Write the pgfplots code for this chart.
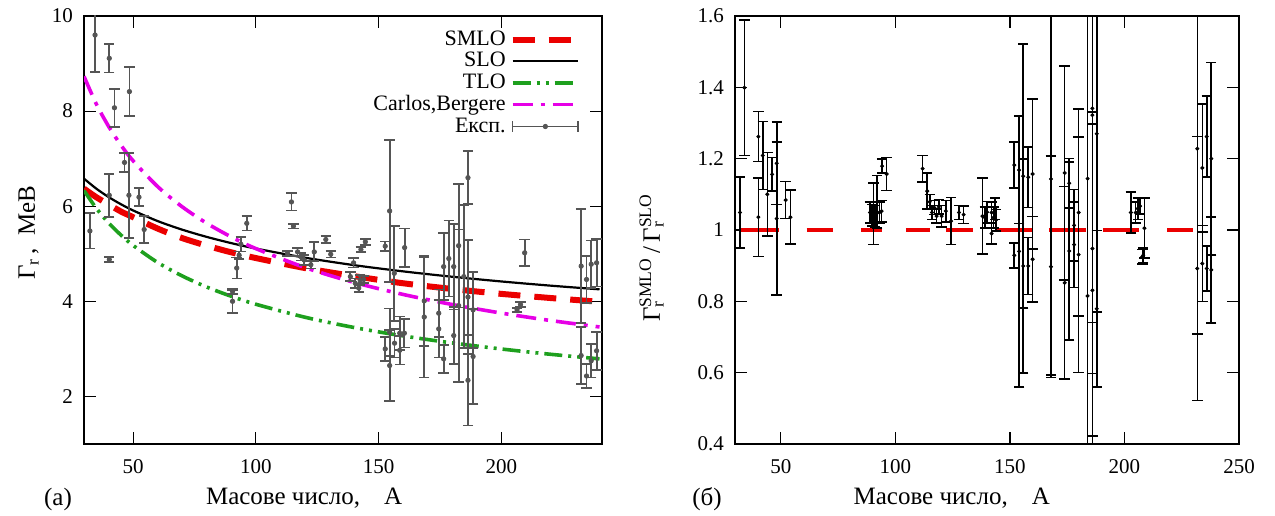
\documentclass[border=0pt]{standalone}
\usepackage{fontspec}
\setmainfont{Liberation Serif}
\usepackage{pgfplots}
\usepackage{pgfplotstable}
\pgfplotsset{compat=1.18}
\definecolor{expgray}{RGB}{85,85,85}
\definecolor{smlored}{RGB}{235,0,0}
\definecolor{tlogreen}{RGB}{30,160,30}
\definecolor{cbmag}{RGB}{230,0,230}

\pgfplotstableread{
A smlo slo tlo cb
30 6.37 6.58 6.33 8.73
35 6.19 6.37 5.957 8.151
40 6.04 6.194 5.651 7.681
45 5.89 6.043 5.396 7.289
50 5.77 5.911 5.176 6.955
60 5.53 5.688 4.817 6.413
70 5.33 5.507 4.534 5.988
80 5.17 5.355 4.301 5.642
90 5.03 5.224 4.106 5.354
100 4.91 5.110 3.939 5.109
120 4.70 4.918 3.666 4.711
140 4.53 4.761 3.450 4.398
160 4.38 4.630 3.273 4.145
180 4.26 4.517 3.125 3.933
200 4.157 4.418 2.998 3.753
220 4.07 4.330 2.887 3.597
240 3.99 4.252 2.790 3.461
}\curves

\pgfplotstableread{
A G e
32.4 5.48 0.37
34.5 9.60 0.77
40.3 9.11 0.30
42.4 8.07 0.40
48.5 8.41 0.52
46.5 6.92 0.20
40.3 6.23 0.45
48.3 6.23 0.89
52.4 6.19 0.19
54.5 5.51 0.28
40.3 4.88 0.05
90.5 4.21 0.05
90.5 4.00 0.24
92.2 4.70 0.22
93.2 4.97 0.08
93.9 5.20 0.15
96.3 5.64 0.15
112.9 5.01 0.05
114.5 6.09 0.18
115.3 5.58 0.05
117.0 5.04 0.08
118.3 4.94 0.08
119.7 4.87 0.10
122.4 4.77 0.08
123.8 5.04 0.20
128.5 5.30 0.07
130.5 4.99 0.07
138.5 4.52 0.10
139.8 4.81 0.10
140.5 4.38 0.10
141.9 4.28 0.08
142.5 4.45 0.10
143.9 4.46 0.08
142.8 5.09 0.05
144.6 5.25 0.06
152.7 5.16 0.10
154.5 5.90 1.50
156.4 4.59 1.00
160.6 5.13 0.40
152.7 3.00 0.25
154.5 2.65 0.75
154.5 3.35 0.50
156.5 3.12 0.30
158.6 3.33 0.35
158.6 2.97 0.30
160.5 3.33 0.30
168.6 4.01 0.95
168.6 3.67 1.27
174.5 3.75 0.50
174.5 3.42 0.60
176.5 4.73 0.70
176.5 2.79 0.30
178.6 4.90 0.80
180.6 4.73 0.90
180.6 3.28 0.60
182.6 5.17 1.30
182.6 3.91 1.60
184.7 4.52 1.50
186.4 6.60 0.56
186.4 4.09 1.20
186.4 2.34 0.95
188.5 3.82 0.80
188.5 2.84 1.00
206.4 3.82 0.04
207.8 3.93 0.05
209.5 5.02 0.28
232.5 4.74 1.20
232.5 2.86 0.60
234.7 4.46 0.50
234.7 2.43 0.25
236.6 4.78 0.50
236.6 2.75 0.35
238.8 4.81 0.50
238.8 2.96 0.40
}\expdata

\pgfplotstableread{
A R e
32.2 1.049 0.10
34.1 1.399 0.19
40.2 1.262 0.07
40.2 1.036 0.11
42.1 1.209 0.095
44.1 1.100 0.117
46.2 1.156 0.047
48.2 1.187 0.115
48.2 1.032 0.215
52.1 1.084 0.052
54.2 1.036 0.076
88.9 1.049 0.03
89.9 1.041 0.03
90.5 1.045 0.086
91.1 1.039 0.03
92.1 1.079 0.074
93.0 1.049 0.03
94.0 1.053 0.03
94.2 1.179 0.02
96.2 1.157 0.046
111.9 1.172 0.037
113.9 1.109 0.05
115.0 1.079 0.02
116.0 1.049 0.02
117.0 1.063 0.02
118.0 1.039 0.02
119.0 1.065 0.02
120.2 1.039 0.03
122.0 1.053 0.03
124.3 1.025 0.066
127.8 1.049 0.02
129.8 1.043 0.025
138.0 1.039 0.107
139.0 1.035 0.03
140.0 1.050 0.03
142.0 1.049 0.03
142.8 1.035 0.03
143.5 1.060 0.03
143.9 1.028 0.03
142.0 0.990 0.03
151.9 1.182 0.065
151.9 0.929 0.035
154.0 1.168 0.15
154.0 0.940 0.38
155.8 1.151 0.37
155.8 0.899 0.30
158.0 1.148 0.085
158.0 0.899 0.08
159.9 1.157 0.21
159.9 0.918 0.12
167.9 1.143 0.55
167.9 0.897 0.31
173.9 1.160 0.30
173.9 0.852 0.27
175.9 1.131 0.07
175.9 0.941 0.25
178.0 1.013 0.10
178.0 0.959 0.12
180.0 1.049 0.29
180.0 0.931 0.33
183.9 1.144 0.90
183.9 0.815 0.90
186.0 1.341 0.60
186.0 1.322 0.90
186.0 0.948 0.35
186.0 0.831 0.50
187.9 1.270 0.50
187.9 0.779 0.22
202.8 1.049 0.057
204.9 1.049 0.03
205.8 1.060 0.03
206.8 1.067 0.022
208.7 1.005 0.084
207.8 0.925 0.02
208.2 0.929 0.02
231.8 1.228 0.52
231.8 0.892 0.37
234.0 1.174 0.18
234.0 0.906 0.107
235.9 1.262 0.113
235.9 0.892 0.063
237.9 1.200 0.27
237.9 0.888 0.148
}\ratiodata

\pgfplotsset{
  myaxis/.style={
    scale only axis,
    axis line style={line width=1.2pt},
    tick align=inside,
    major tick length=6pt,
    tick style={line width=0.6pt, black},
    /pgf/number format/assume math mode=true,
    ticklabel style={font=\rmfamily\fontsize{10.5}{12}\selectfont},
    xticklabel style={yshift=-4pt},
    yticklabel style={xshift=-2pt},
    label style={font=\rmfamily\fontsize{12.5}{15}\selectfont},
  }
}

\begin{document}
\begin{tikzpicture}
\path[use as bounding box] (0,0) rectangle (637.5pt,257.5pt);

\begin{axis}[myaxis,
  at={(42pt,35.5pt)}, anchor=south west,
  width=259pt, height=214pt,
  xmin=30, xmax=241, ymin=1, ymax=10,
  xtick={50,100,150,200}, ytick={2,4,6,8,10},
  xlabel={Масове число,\hspace{12pt}A},
  xlabel style={at={(axis description cs:0.425,-0.1425)}, anchor=base},
  ylabel={Γ\textsubscript{r}\,,\ \ МеВ},
  ylabel style={at={(axis description cs:-0.0946,0.493)}, anchor=base},
  legend style={at={(axis description cs:0.972,0.985)}, anchor=north east,
    draw=none, fill=none, font=\rmfamily\fontsize{11}{12}\selectfont,
    legend cell align=right, row sep=-2pt},
  legend plot pos=right,
  legend image code/.code={\draw[#1] (0cm,0cm) -- (1.15cm,0cm);},
]
\addplot[smlored, line width=3pt, dash pattern=on 11pt off 7pt, smooth] table[x=A,y=smlo]{\curves};
\addlegendentry{SMLO}
\addplot[black, line width=1.1pt, smooth] table[x=A,y=slo]{\curves};
\addlegendentry{SLO}
\addplot[tlogreen, line width=1.8pt, dash pattern=on 9pt off 3pt on 1.5pt off 3pt on 1.5pt off 3pt, smooth] table[x=A,y=tlo]{\curves};
\addlegendentry{TLO}
\addplot[cbmag, line width=1.8pt, dash pattern=on 10pt off 4pt on 2pt off 4pt, smooth] table[x=A,y=cb]{\curves};
\addlegendentry{Carlos,Bergere}
\addplot[expgray, only marks, mark=*, mark size=1.1pt, forget plot,
  mark options={fill=expgray, draw=expgray},
  error bars/.cd, y dir=both, y explicit,
  error bar style={line width=0.9pt, expgray},
  error mark options={line width=0.9pt, mark size=2.6pt, expgray, rotate=90},
  ] table[x=A,y=G,y error=e]{\expdata};
\addlegendimage{legend image code/.code={
  \draw[expgray, line width=0.8pt] (0cm,0cm) -- (1.15cm,0cm);
  \draw[expgray, line width=0.8pt] (0cm,-2.6pt) -- (0cm,2.6pt);
  \draw[expgray, line width=0.8pt] (1.15cm,-2.6pt) -- (1.15cm,2.6pt);
  \fill[expgray] (0.575cm,0cm) circle (1.1pt);}}
\addlegendentry{Експ.}
\end{axis}

\begin{axis}[myaxis,
  at={(367.5pt,35.5pt)}, anchor=south west,
  width=252pt, height=214pt,
  xmin=30, xmax=250, ymin=0.4, ymax=1.6,
  xtick={50,100,150,200,250}, ytick={0.4,0.6,0.8,1,1.2,1.4,1.6},
  yticklabel style={/pgf/number format/fixed},
  xlabel={Масове число,\hspace{12pt}A},
  xlabel style={at={(axis description cs:0.43,-0.1425)}, anchor=base},
  ylabel={Γ\rlap{\textsubscript{r}}\textsuperscript{SMLO}\,/\,Γ\rlap{\textsubscript{r}}\textsuperscript{SLO}},
  ylabel style={at={(axis description cs:-0.149,0.435)}, anchor=base},
  unbounded coords=jump,
]
\addplot[smlored, line width=1.6pt] coordinates {
(32.2,1) (49.2,1) (49.3,nan)
(61.3,1) (72.8,1) (72.9,nan)
(85,1) (94.2,1) (94.3,nan)
(104.6,1) (115.1,1) (115.2,nan)
(122,1) (133.9,1) (134,nan)
(144.4,1) (159.6,1) (159.7,nan)
(167,1) (183.2,1) (183.3,nan)
(190.6,1) (206.3,1) (206.4,nan)
(218.6,1) (230,1)
};
\addplot[black, only marks, mark=*, mark size=0.8pt,
  error bars/.cd, y dir=both, y explicit,
  error bar style={line width=0.8pt, black},
  error mark options={line width=0.8pt, mark size=2.6pt, black, rotate=90},
  ] table[x=A,y=R,y error=e]{\ratiodata};
\end{axis}

\node[font=\rmfamily\fontsize{12.5}{15}\selectfont, anchor=base] at (29pt,5pt) {(а)};
\node[font=\rmfamily\fontsize{12.5}{15}\selectfont, anchor=base] at (353.5pt,5pt) {(б)};
\end{tikzpicture}
\end{document}
